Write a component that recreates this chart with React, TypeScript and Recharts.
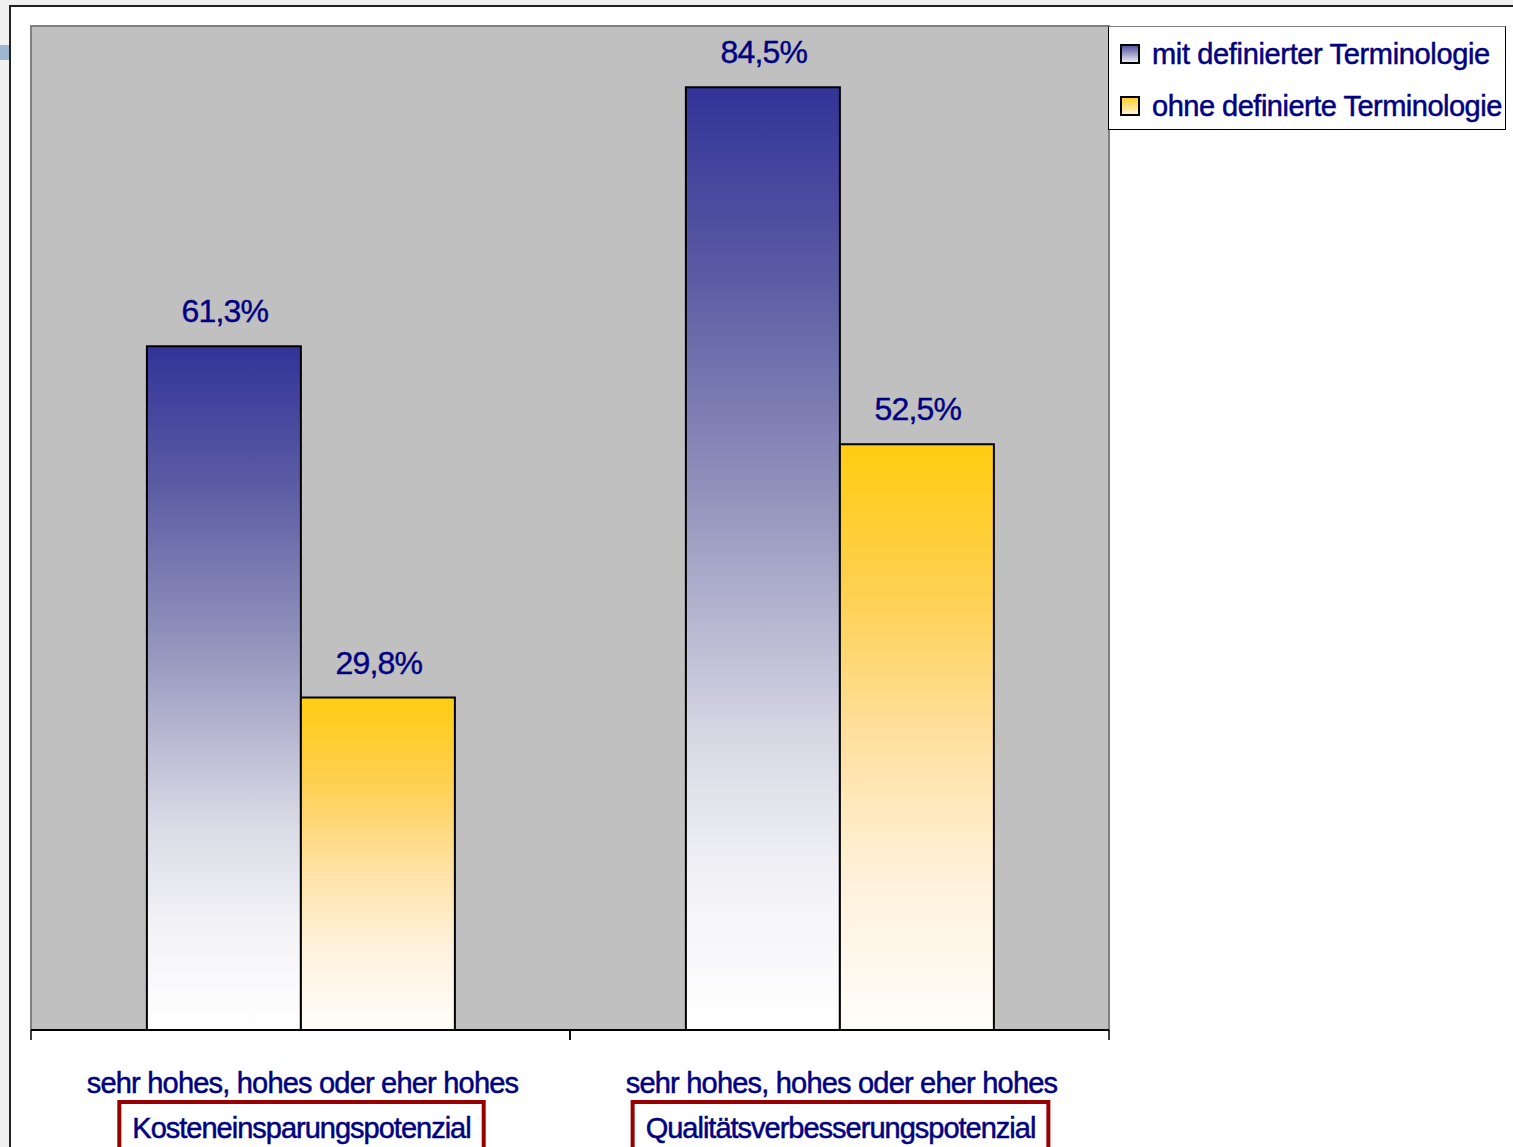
import React, { useLayoutEffect, useRef, useState } from 'react';
import { BarChart, Bar, XAxis, YAxis, CartesianGrid, ReferenceArea, LabelList, Legend } from 'recharts';

const categoryLine1 = ['sehr hohes, hohes oder eher hohes', 'sehr hohes, hohes oder eher hohes'];
const categoryLine2 = ['Kosteneinsparungspotenzial', 'Qualitätsverbesserungspotenzial'];
const withTerminology = [61.3, 84.5];
const withoutTerminology = [29.8, 52.5];
const seriesNames = ['mit definierter Terminologie', 'ohne definierte Terminologie'];
const yDomain = [0, 90];

const data = categoryLine2.map((c, i) => ({
  line1: categoryLine1[i],
  line2: c,
  mit: withTerminology[i],
  ohne: withoutTerminology[i],
}));

const W = 1513;
const H = 1147;
const MARGIN = { top: 26, right: 404, left: 31, bottom: 17 };
const PLOT_W = W - MARGIN.left - MARGIN.right;
const FONT = '"Liberation Sans", Arial, sans-serif';
const NAVY = '#000080';

function CategoryTick(props: any) {
  const { x, y, index } = props;
  const ref = useRef<SVGTextElement>(null);
  const [tw, setTw] = useState(0);
  useLayoutEffect(() => {
    if (ref.current) setTw(ref.current.getComputedTextLength());
  }, []);
  const half = PLOT_W / data.length / 2;
  const row = data[index] || data[0];
  return (
    <g>
      <line x1={x - half} x2={x - half} y1={y} y2={y + 10} stroke="#000" strokeWidth={1.5} />
      <line x1={x + half} x2={x + half} y1={y} y2={y + 10} stroke="#000" strokeWidth={1.5} />
      <text x={x + 2} y={y + 63} textAnchor="middle" fill={NAVY} stroke={NAVY} strokeWidth={0.5} fontFamily={FONT} fontSize={29} style={{ letterSpacing: '-0.8px' }}>
        {row.line1}
      </text>
      {tw > 0 && (
        <rect x={x + 1 - tw / 2 - 13} y={y + 72} width={tw + 26} height={60} fill="#fff" stroke="#990000" strokeWidth={4} />
      )}
      <text ref={ref} x={x + 1} y={y + 108} textAnchor="middle" fill={NAVY} stroke={NAVY} strokeWidth={0.5} fontFamily={FONT} fontSize={29} style={{ letterSpacing: '-1px' }}>
        {row.line2}
      </text>
    </g>
  );
}

function ValueLabel(props: any) {
  const { x, y, width, value } = props;
  const txt = Number(value).toFixed(1).replace('.', ',') + '%';
  return (
    <text x={x + width / 2 + 1} y={y - 24} textAnchor="middle" fill={NAVY} stroke={NAVY} strokeWidth={0.4} fontFamily={FONT} fontSize={32} style={{ letterSpacing: '-0.8px' }}>
      {txt}
    </text>
  );
}

function LegendMarker({ top, bottom, id }: { top: string; bottom: string; id: string }) {
  return (
    <svg width={20} height={20} style={{ display: 'block' }}>
      <defs>
        <linearGradient id={id} x1="0" y1="0" x2="0" y2="1">
          <stop offset="0%" stopColor={top} />
          <stop offset="100%" stopColor={bottom} />
        </linearGradient>
      </defs>
      <rect x={1} y={1} width={18} height={18} fill={`url(#${id})`} stroke="#000" strokeWidth={2} />
    </svg>
  );
}

function LegendBox() {
  const markers = [
    { top: '#4b4b9e', bottom: '#f4f4f8' },
    { top: '#ffcc22', bottom: '#fff6e0' },
  ];
  return (
    <div
      style={{
        width: 396,
        height: 102,
        background: '#fff',
        border: '1px solid #000',
        borderTopColor: '#808080',
        boxSizing: 'content-box',
        fontFamily: FONT,
      }}
    >
      {seriesNames.map((name, i) => (
        <div key={name} style={{ position: 'absolute', left: 12, top: 18 + i * 52, display: 'flex', alignItems: 'center' }}>
          <LegendMarker id={`lg${i}`} top={markers[i].top} bottom={markers[i].bottom} />
          <span
            style={{
              marginLeft: 12,
              fontSize: 29,
              color: NAVY,
              letterSpacing: i === 0 ? '-0.35px' : '-0.5px',
              lineHeight: '20px',
              whiteSpace: 'nowrap',
              WebkitTextStroke: `0.5px ${NAVY}`,
            }}
          >
            {name}
          </span>
        </div>
      ))}
    </div>
  );
}

export default function App() {
  return (
    <div style={{ position: 'absolute', left: 0, top: 0, width: W, height: H, background: '#f0f0f0', overflow: 'hidden' }}>
      <div
        style={{
          position: 'absolute',
          left: 9,
          top: 5,
          width: W - 9,
          height: H - 5,
          background: '#fff',
          borderLeft: '2px solid #222',
          borderTop: '2px solid #222',
          boxSizing: 'border-box',
        }}
      />
      <div style={{ position: 'absolute', left: 0, top: 45, width: 9, height: 15, background: '#9fb6d0' }} />
      <div style={{ position: 'absolute', left: 0, top: 0 }}>
        <BarChart width={W} height={H} data={data} margin={MARGIN} barCategoryGap="21.5%" barGap={0}>
          <defs>
            <linearGradient id="gBlue" x1="0" y1="0" x2="0" y2="1">
              <stop offset="0%" stopColor="#333399" />
              <stop offset="20%" stopColor="#5b5ba4" />
              <stop offset="45%" stopColor="#9797bf" />
              <stop offset="70%" stopColor="#dadae6" />
              <stop offset="85%" stopColor="#f3f3f7" />
              <stop offset="100%" stopColor="#ffffff" />
            </linearGradient>
            <linearGradient id="gYellow" x1="0" y1="0" x2="0" y2="1">
              <stop offset="0%" stopColor="#ffcc11" />
              <stop offset="25%" stopColor="#fed050" />
              <stop offset="50%" stopColor="#ffe09f" />
              <stop offset="75%" stopColor="#fff2dd" />
              <stop offset="100%" stopColor="#fffdfa" />
            </linearGradient>
          </defs>
          <CartesianGrid fill="#c0c0c0" fillOpacity={1} horizontal={false} vertical={false} />
          <ReferenceArea y1={yDomain[0]} y2={yDomain[1]} fill="none" stroke="#808080" strokeWidth={2} ifOverflow="visible" />
          <YAxis hide domain={yDomain} type="number" allowDataOverflow />
          <XAxis
            dataKey="line2"
            height={100}
            axisLine={{ stroke: '#000', strokeWidth: 2 }}
            tickLine={false}
            tickSize={0}
            tickMargin={0}
            interval={0}
            tick={<CategoryTick />}
          />
          <Legend
            layout="vertical"
            align="center"
            verticalAlign="middle"
            wrapperStyle={{ left: 1108, top: 26, width: 398, height: 104 }}
            content={() => <LegendBox />}
          />
          <Bar dataKey="mit" name={seriesNames[0]} fill="url(#gBlue)" stroke="#000" strokeWidth={2} isAnimationActive={false}>
            <LabelList dataKey="mit" content={<ValueLabel />} />
          </Bar>
          <Bar dataKey="ohne" name={seriesNames[1]} fill="url(#gYellow)" stroke="#000" strokeWidth={2} isAnimationActive={false}>
            <LabelList dataKey="ohne" content={<ValueLabel />} />
          </Bar>
        </BarChart>
      </div>
    </div>
  );
}
